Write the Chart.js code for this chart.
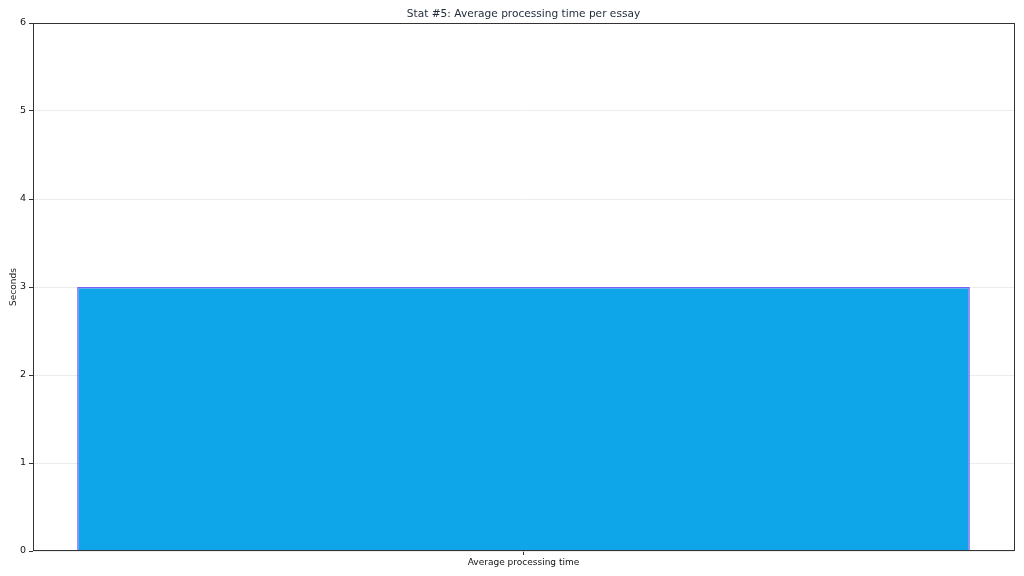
<!DOCTYPE html>
<html>
<head>
<meta charset="utf-8">
<script src="https://cdn.jsdelivr.net/npm/chart.js@4.4.0/dist/chart.umd.min.js"></script>
<style>
  html, body { margin: 0; padding: 0; background: #fff; }
  #wrap { width: 1024px; height: 576px; }
</style>
</head>
<body>
<div id="wrap"><canvas id="statChart" width="1024" height="576"></canvas></div>
<script>
const categories = ["Average processing time"];
const seconds = [3.0];
const yTicks = [0, 1, 2, 3, 4, 5, 6];

// draw the full frame like matplotlib's spines
const framePlugin = {
    id: "frame",
    afterDraw(chart) {
        const { ctx, chartArea } = chart;
        const l = Math.round(chartArea.left), t = Math.round(chartArea.top);
        const r = Math.round(chartArea.right), b = Math.round(chartArea.bottom);
        ctx.save();
        ctx.strokeStyle = "#333";
        ctx.lineWidth = 1;
        ctx.strokeRect(l + 0.5, t + 0.5, r - l, b - t - 1);
        ctx.restore();
    }
};

const ctx = document.getElementById("statChart").getContext("2d");
new Chart(ctx, {
    type: "bar",
    data: {
        labels: categories,
        datasets: [{
            label: "Seconds",
            data: seconds,
            backgroundColor: "#0ea5e9",
            borderColor: "#8060f4",
            borderWidth: 1.5,
            borderSkipped: "bottom",
            inflateAmount: 0,
            categoryPercentage: 1,
            barPercentage: 0.91
        }]
    },
    options: {
        responsive: false,
        animation: false,
        layout: { padding: { top: 0, right: 10, bottom: 0, left: 0 } },
        plugins: {
            legend: { display: false },
            tooltip: { enabled: false },
            title: {
                display: true,
                fullSize: false,
                text: "Stat #5: Average processing time per essay",
                color: "#1e293b",
                font: { family: "DejaVu Sans", size: 10.6, weight: "normal", lineHeight: "12px" },
                padding: { top: 8, bottom: 3 }
            }
        },
        scales: {
            x: {
                grid: { display: true, offset: false, drawOnChartArea: false, drawTicks: true, tickLength: 4, color: "#333" },
                border: { display: false },
                ticks: { color: "#111", font: { family: "DejaVu Sans", size: 9 }, padding: 2 },
                afterFit(scale) { scale.height = 25; }
            },
            y: {
                min: 0,
                max: 6,
                afterBuildTicks(scale) { scale.ticks = yTicks.map(v => ({ value: v })); },
                grid: { color: "#ececec", tickColor: "#333", tickLength: 4 },
                border: { display: false },
                ticks: { color: "#111", font: { family: "DejaVu Sans", size: 9.5 }, padding: 3 },
                title: {
                    display: true,
                    text: "Seconds",
                    color: "#222",
                    font: { family: "DejaVu Sans", size: 9 },
                    padding: { top: 8, bottom: 0 }
                },
                afterFit(scale) { scale.width = 33; }
            }
        }
    },
    plugins: [framePlugin]
});
</script>
</body>
</html>
